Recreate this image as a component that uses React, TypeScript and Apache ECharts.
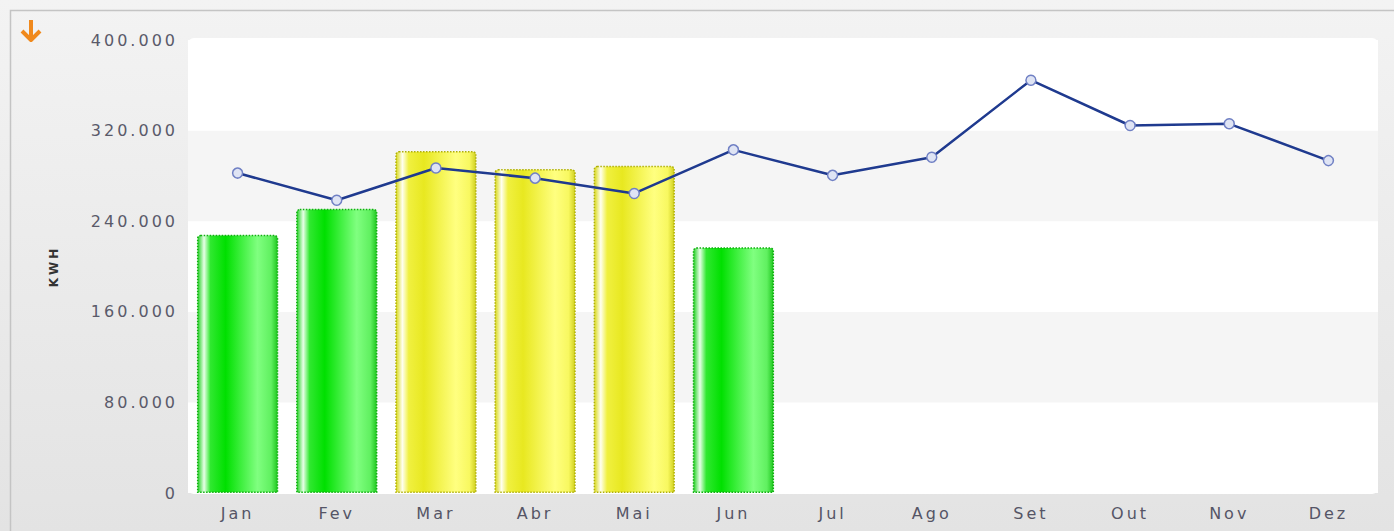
import React, { useEffect, useRef } from "react";
import * as echarts from "echarts";

const months = ["Jan", "Fev", "Mar", "Abr", "Mai", "Jun", "Jul", "Ago", "Set", "Out", "Nov", "Dez"];
const consumption = [228000, 251000, 302000, 286000, 289000, 217000];
const consumptionStatus = ["ok", "ok", "warn", "warn", "warn", "ok"];
const reference = [282500, 258500, 287000, 278000, 264500, 303000, 280500, 296500, 364500, 324500, 326000, 293500];
const yTicks = { min: 0, max: 400000, interval: 80000 };

const fmt = (v: number) => (v === 0 ? "0" : v.toLocaleString("de-DE"));

const gradFor = (status: string) =>
  status === "ok"
    ? new echarts.graphic.LinearGradient(0, 0, 1, 0, [
        { offset: 0, color: "#22d022" },
        { offset: 0.08, color: "#e8ffe8" },
        { offset: 0.16, color: "#30e830" },
        { offset: 0.35, color: "#00e000" },
        { offset: 0.75, color: "#80ff80" },
        { offset: 0.92, color: "#60f060" },
        { offset: 1, color: "#20c820" },
      ])
    : new echarts.graphic.LinearGradient(0, 0, 1, 0, [
        { offset: 0, color: "#d8d818" },
        { offset: 0.08, color: "#fffff0" },
        { offset: 0.16, color: "#f0f040" },
        { offset: 0.35, color: "#e8e820" },
        { offset: 0.75, color: "#ffff80" },
        { offset: 0.92, color: "#f8f860" },
        { offset: 1, color: "#d0d020" },
      ]);

export default function App() {
  const ref = useRef<HTMLDivElement>(null);
  useEffect(() => {
    document.body.style.margin = "0";
    const styleEl = document.createElement("style");
    styleEl.textContent = ".kwh-chart svg text { letter-spacing: 3px; }";
    document.head.appendChild(styleEl);
    const chart = echarts.init(ref.current!, null, { renderer: "svg" });
    chart.setOption({
      animation: false,
      backgroundColor: new echarts.graphic.LinearGradient(0, 0, 0, 1, [
        { offset: 0, color: "#f3f3f3" },
        { offset: 1, color: "#e3e3e3" },
      ]),
      graphic: [
        {
          type: "rect",
          shape: { x: 10.5, y: 10.5, width: 1400, height: 540 },
          style: { fill: "none", stroke: "#c4c4c4", lineWidth: 1.5 },
          silent: true,
        },
        {
          type: "rect",
          z: -10,
          shape: { x: 188, y: 38, width: 1190, height: 456, r: 6 },
          style: { fill: "#ffffff" },
          silent: true,
        },
        {
          type: "line",
          shape: { x1: 31, y1: 20, x2: 31, y2: 40 },
          style: { stroke: "#f0891c", lineWidth: 4 },
        },
        {
          type: "polyline",
          shape: { points: [[22, 31], [31, 40], [40, 31]] },
          style: { stroke: "#f0891c", lineWidth: 4, fill: "none", lineJoin: "round" },
        },
      ],
      grid: {
        left: 188,
        right: 16,
        top: 40,
        bottom: 38,
        containLabel: false,
      },
      xAxis: {
        type: "category",
        data: months,
        axisLine: { show: false },
        axisTick: { show: false },
        axisLabel: { color: "#555566", fontSize: 16, fontFamily: "DejaVu Sans", margin: 12 },
      },
      yAxis: {
        type: "value",
        min: yTicks.min,
        max: yTicks.max,
        interval: yTicks.interval,
        name: "KWH",
        nameLocation: "middle",
        nameGap: 128,
        nameRotate: 90,
        nameTextStyle: { color: "#333333", fontSize: 12, fontWeight: "bold", fontFamily: "DejaVu Sans" },
        axisLine: { show: false },
        axisTick: { show: false },
        splitLine: { show: false },
        splitArea: { show: true, areaStyle: { color: ["#ffffff", "#f5f5f5"] } },
        axisLabel: {
          color: "#5a5a6a",
          fontSize: 16,
          fontFamily: "DejaVu Sans",
          margin: 10,
          formatter: (v: number) => fmt(v),
        },
      },
      series: [
        {
          type: "bar",
          barWidth: "82%",
          data: consumption.map((v, i) => ({
            value: v,
            itemStyle: {
              color: gradFor(consumptionStatus[i]),
              borderColor: consumptionStatus[i] === "ok" ? "#10b010" : "#b0b008",
              borderType: "dotted",
              borderWidth: 1.5,
              borderRadius: [3, 3, 0, 0],
            },
          })),
        },
        {
          type: "line",
          data: reference,
          symbol: "circle",
          symbolSize: 10,
          lineStyle: { color: "#1f3a8f", width: 2.5 },
          itemStyle: { color: "#dfe4f4", borderColor: "#7080c4", borderWidth: 1.5 },
          z: 5,
        },
      ],
    });
    return () => {
      chart.dispose();
      styleEl.remove();
    };
  }, []);
  return <div ref={ref} className="kwh-chart" style={{ width: 1394, height: 531 }} />;
}
